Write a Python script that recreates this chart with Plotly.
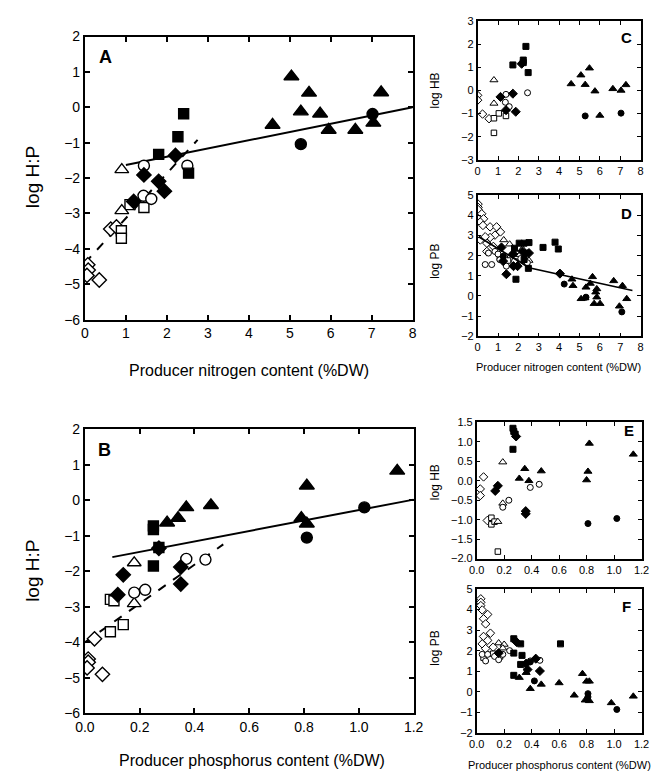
import plotly.graph_objects as go

# ---------------- DATA ----------------
# Panel A: producer N content vs log H:P
A_ftri = ([4.58, 5.04, 5.27, 5.47, 5.74, 5.95, 6.6, 7.04, 7.23], [-0.50, 0.87, -0.12, 0.41, -0.18, -0.64, -0.64, -0.44, 0.42])
A_fcir = ([5.27, 7.02], [-1.04, -0.19])
A_fsq = ([2.41, 2.27, 1.8, 2.53], [-0.18, -0.83, -1.33, -1.86])
A_fdia = ([2.21, 1.44, 1.8, 1.94, 1.19], [-1.36, -1.91, -2.09, -2.37, -2.66])
A_ocir = ([1.44, 2.5, 1.43, 1.62], [-1.65, -1.65, -2.5, -2.59])
A_otri = ([0.9, 0.9], [-1.76, -2.92])
A_osq = ([1.1, 1.44, 0.89, 0.89], [-2.75, -2.83, -3.49, -3.7])
A_odia = ([0.63, 0.77, 0.07, 0.08, 0.05, 0.35], [-3.44, -3.38, -4.45, -4.6, -4.75, -4.88])
A_solid = ([1.0, 8.0], [-1.63, 0.0])
A_dash = ([0.0, 2.75], [-4.4, -0.92])

# Panel B: producer P content vs log H:P
B_ftri = ([0.30, 0.34, 0.37, 0.46, 0.79, 0.81, 0.81, 1.14], [-0.63, -0.5, -0.2, -0.14, -0.5, -0.66, 0.41, 0.83])
B_fcir = ([1.02, 0.81], [-0.2, -1.05])
B_fsq = ([0.25, 0.25, 0.27, 0.25], [-0.72, -0.82, -1.33, -1.85])
B_fdia = ([0.27, 0.35, 0.35, 0.14, 0.12], [-1.35, -1.88, -2.36, -2.1, -2.66])
B_ocir = ([0.37, 0.44, 0.18, 0.22], [-1.65, -1.67, -2.6, -2.52])
B_otri = ([0.18, 0.18], [-1.76, -2.91])
B_osq = ([0.093, 0.106, 0.093, 0.14], [-2.79, -2.83, -3.7, -3.5])
B_odia = ([0.035, 0.012, 0.012, 0.008, 0.064], [-3.9, -4.47, -4.56, -4.72, -4.9])
B_solid = ([0.1, 1.2], [-1.6, 0.02])
B_dash = ([0.0, 0.505], [-4.0, -1.24])

# Panel C: producer N content vs log HB
C_ftri = ([4.59, 5.07, 5.49, 5.28, 5.76, 6.0, 6.64, 7.04, 7.28], [0.28, 0.66, 0.96, 0.25, -0.03, -1.08, 0.07, 0.0, 0.24])
C_fcir = ([5.28, 7.04], [-1.1, -0.98])
C_fsq = ([2.37, 2.24, 2.24, 1.73, 2.48], [1.9, 1.31, 1.2, 1.1, 0.77])
C_fdia = ([2.16, 1.12, 1.73, 1.39, 1.87], [1.15, -0.28, -0.14, -0.85, -0.92])
C_ocir = ([1.39, 1.36, 1.55, 2.45], [-0.17, -0.51, -0.7, -0.1])
C_otri = ([0.8, 0.8], [0.45, -0.56])
C_osq = ([1.04, 0.8, 1.39, 0.8], [-0.99, -1.2, -1.1, -1.83])
C_odia = ([0.0, 0.0, 0.24, 0.56], [-0.21, -0.42, -1.02, -1.22])

# Panel D: producer N content vs log PB
D_odia = ([0.02, 0.02, 0.02, 0.2, 0.29, 0.13, 0.26, 0.61, 0.93, 1.12, 0.85, 0.61, 0.13, 0.37, 0.45, 0.77, 0.45],
          [4.56, 4.4, 4.29, 4.08, 3.83, 3.67, 3.5, 3.43, 3.43, 3.18, 3.02, 2.9, 2.78, 2.94, 2.62, 2.46, 2.21])
D_otri = ([1.28, 1.57, 2.08, 2.2, 2.52], [2.78, 2.57, 2.05, 2.34, 1.76])
D_ocir = ([0.37, 0.69, 0.53, 0.85, 1.09, 1.41, 1.81, 2.12, 2.44, 1.0], [1.56, 1.56, 2.13, 2.21, 1.8, 1.48, 1.73, 1.86, 1.65, 2.08])
D_osq = ([1.09, 1.33, 1.49, 1.88, 2.36], [1.89, 1.86, 1.76, 1.97, 1.73])
D_fsq = ([1.81, 2.04, 2.28, 2.52, 2.36, 2.28, 3.21, 3.8, 3.96, 1.88, 2.49], [2.37, 2.62, 2.62, 2.65, 2.13, 1.81, 2.41, 2.67, 2.33, 0.83, 1.37])
D_fdia = ([1.17, 1.73, 1.76, 1.41, 2.52, 2.2, 4.04, 1.96, 1.25], [2.41, 2.08, 1.48, 1.08, 2.13, 2.21, 1.11, 1.48, 1.73])
D_fcir = ([4.25, 5.32, 7.08, 1.76, 1.25], [0.59, -0.06, -0.79, 2.08, 1.97])
D_ftri = ([4.63, 4.68, 5.32, 5.64, 5.53, 5.85, 5.8, 5.08, 5.85, 5.72, 6.01, 6.68, 7.11, 7.32, 6.96, 5.27],
          [0.83, 0.51, 0.43, 0.95, 0.62, 0.35, 0.19, -0.14, -0.06, -0.38, -0.38, 0.75, 0.51, -0.14, -0.51, -0.1])
D_fit = ([0.05, 2.52, 7.6], [2.94, 1.4, 0.27])

# Panel E: producer P content vs log HB
E_fsq = ([0.264, 0.27, 0.28, 0.264], [1.35, 1.27, 1.2, 0.81])
E_ftri = ([0.82, 1.14, 0.35, 0.31, 0.38, 0.47, 0.81, 0.8], [0.96, 0.68, 0.31, 0.06, 0.0, 0.25, 0.24, 0.02])
E_fdia = ([0.287, 0.154, 0.135, 0.357, 0.357], [1.14, -0.13, -0.26, -0.78, -0.85])
E_fcir = ([0.81, 1.02], [-1.1, -0.97])
E_ocir = ([0.39, 0.455, 0.234, 0.19], [-0.17, -0.09, -0.5, -0.68])
E_otri = ([0.19, 0.19, 0.154], [0.48, -0.58, -1.05])
E_osq = ([0.107, 0.107, 0.13, 0.154], [-0.95, -1.12, -1.05, -1.82])
E_odia = ([0.05, 0.026, 0.026, 0.077], [0.1, -0.21, -0.38, -1.02])

# Panel F: producer P content vs log PB
F_odia = ([0.03, 0.03, 0.03, 0.04, 0.08, 0.05, 0.065, 0.1, 0.05, 0.08, 0.04, 0.12, 0.065],
          [4.52, 4.35, 4.19, 3.98, 3.76, 3.55, 3.3, 2.85, 2.69, 2.5, 2.33, 2.17, 2.1])
F_ocir = ([0.065, 0.04, 0.08, 0.13, 0.16, 0.19, 0.24, 0.39, 0.46], [1.5, 1.82, 1.82, 1.72, 1.56, 1.82, 2.0, 1.5, 1.53])
F_osq = ([0.12, 0.17, 0.05], [1.85, 1.72, 1.66])
F_otri = ([0.16, 0.2, 0.19], [2.37, 2.3, 2.12])
F_fsq = ([0.27, 0.32, 0.61, 0.27, 0.33, 0.32, 0.27], [2.58, 2.33, 2.33, 1.88, 1.77, 1.33, 0.8])
F_fdia = ([0.16, 0.37, 0.46, 0.43, 0.36, 0.29], [1.88, 1.08, 1.01, 1.61, 1.37, 2.42])
F_fcir = ([0.42, 0.81, 0.81, 1.02, 0.39], [0.53, -0.09, -0.25, -0.86, 1.45])
F_ftri = ([0.31, 0.39, 0.47, 0.6, 0.71, 0.77, 0.8, 0.82, 0.79, 0.82, 0.98, 1.14, 0.36],
          [0.69, 0.15, 0.36, 0.43, -0.17, 0.88, 0.51, 0.51, -0.41, -0.44, -0.54, -0.22, 0.93])

N_TICKS = [0, 1, 2, 3, 4, 5, 6, 7, 8]
P_TICKS = [0.0, 0.2, 0.4, 0.6, 0.8, 1.0, 1.2]
HP_TICKS = [-6, -5, -4, -3, -2, -1, 0, 1, 2]
HB_N_TICKS = [-3, -2, -1, 0, 1, 2, 3]
PB_TICKS = [-2, -1, 0, 1, 2, 3, 4, 5]
HB_P_TICKS = [-2.0, -1.5, -1.0, -0.5, 0.0, 0.5, 1.0, 1.5]

# ---------------- STYLE ----------------
FONT = "Arial, Liberation Sans, sans-serif"
W, H = 661, 777

STY = {
    "ftri": ("triangle-up", "black"),
    "fcir": ("circle", "black"),
    "fsq": ("square", "black"),
    "fdia": ("diamond", "black"),
    "otri": ("triangle-up", "white"),
    "ocir": ("circle", "white"),
    "osq": ("square", "white"),
    "odia": ("diamond", "white"),
}
BIG_SIZE = {"ftri": 13, "fcir": 11, "fsq": 10, "fdia": 11, "otri": 12, "ocir": 11, "osq": 10, "odia": 11}
SMALL_SIZE = {"ftri": 7, "fcir": 6, "fsq": 6, "fdia": 7, "otri": 7, "ocir": 6, "osq": 5.5, "odia": 6.5}

fig = go.Figure()


def add_points(series, kind, ax, big):
    sym, col = STY[kind]
    size = (BIG_SIZE if big else SMALL_SIZE)[kind]
    fig.add_trace(go.Scatter(
        x=series[0], y=series[1], mode="markers",
        xaxis="x" + ax, yaxis="y" + ax, showlegend=False, hoverinfo="skip",
        marker=dict(symbol=sym, color=col, size=size,
                    line=dict(color="black", width=1.4 if big else 1.0)),
    ))


def add_line(series, ax, dash, width):
    fig.add_trace(go.Scatter(
        x=series[0], y=series[1], mode="lines", xaxis="x" + ax, yaxis="y" + ax,
        showlegend=False, hoverinfo="skip",
        line=dict(color="black", width=width, dash=dash),
    ))


ORDER = ["odia", "osq", "otri", "ocir", "fdia", "fsq", "fcir", "ftri"]

add_line(A_dash, "", "dash", 2)
add_line(A_solid, "", "solid", 2)
for k, s in zip(ORDER, [A_odia, A_osq, A_otri, A_ocir, A_fdia, A_fsq, A_fcir, A_ftri]):
    add_points(s, k, "", True)

add_line(B_dash, "2", "dash", 2)
add_line(B_solid, "2", "solid", 2)
for k, s in zip(ORDER, [B_odia, B_osq, B_otri, B_ocir, B_fdia, B_fsq, B_fcir, B_ftri]):
    add_points(s, k, "2", True)

for k, s in zip(ORDER, [C_odia, C_osq, C_otri, C_ocir, C_fdia, C_fsq, C_fcir, C_ftri]):
    add_points(s, k, "3", False)

for k, s in zip(ORDER, [D_odia, D_osq, D_otri, D_ocir, D_fdia, D_fsq, D_fcir, D_ftri]):
    add_points(s, k, "4", False)
add_line(D_fit, "4", "solid", 1.6)

for k, s in zip(ORDER, [E_odia, E_osq, E_otri, E_ocir, E_fdia, E_fsq, E_fcir, E_ftri]):
    add_points(s, k, "5", False)

for k, s in zip(ORDER, [F_odia, F_osq, F_otri, F_ocir, F_fdia, F_fsq, F_fcir, F_ftri]):
    add_points(s, k, "6", False)


def px_dom_x(a, b):
    return [a / W, b / W]


def px_dom_y(top, bottom):
    return [1 - bottom / H, 1 - top / H]


def axis(dom, rng, ticks, big, fmt=None, anchor=None):
    d = dict(
        domain=dom, range=rng, tickvals=ticks, showgrid=False, zeroline=False,
        showline=True, linecolor="black", linewidth=2 if big else 1.5, mirror="ticks",
        ticks="inside", ticklen=5 if big else 4, tickwidth=1.5 if big else 1, tickcolor="black",
        tickfont=dict(family=FONT, size=14 if big else 11, color="black"),
        fixedrange=True, anchor=anchor,
    )
    if fmt:
        d["tickformat"] = fmt
    return d


layout = dict(
    width=W, height=H, autosize=False,
    margin=dict(l=0, r=0, t=0, b=0),
    paper_bgcolor="white", plot_bgcolor="white",
    font=dict(family=FONT, color="black"),
)
layout["xaxis"] = axis(px_dom_x(69, 407), [0, 8], N_TICKS, True, anchor="y")
layout["yaxis"] = axis(px_dom_y(21, 310), [-6, 2], HP_TICKS, True, anchor="x")
layout["xaxis2"] = axis(px_dom_x(69, 408), [0, 1.2], P_TICKS, True, ".1f", anchor="y2")
layout["yaxis2"] = axis(px_dom_y(422, 712), [-6, 2], HP_TICKS, True, anchor="x2")
layout["xaxis3"] = axis(px_dom_x(474, 642), [0, 8], N_TICKS, False, anchor="y3")
layout["yaxis3"] = axis(px_dom_y(5, 147), [-3, 3], HB_N_TICKS, False, anchor="x3")
layout["xaxis4"] = axis(px_dom_x(474, 642), [0, 8], N_TICKS, False, anchor="y4")
layout["yaxis4"] = axis(px_dom_y(183, 327), [-2, 5], PB_TICKS, False, anchor="x4")
layout["xaxis5"] = axis(px_dom_x(473, 643), [0, 1.2], P_TICKS, False, ".1f", anchor="y5")
layout["yaxis5"] = axis(px_dom_y(415, 554), [-2, 1.5], HB_P_TICKS, False, ".1f", anchor="x5")
layout["xaxis6"] = axis(px_dom_x(473, 643), [0, 1.2], P_TICKS, False, ".1f", anchor="y6")
layout["yaxis6"] = axis(px_dom_y(585, 732), [-2, 5], PB_TICKS, False, anchor="x6")


def ann(text, x, y, size, bold=False, angle=0):
    return dict(text=("<b>%s</b>" % text) if bold else text, x=x / W, y=1 - y / H,
                xref="paper", yref="paper", showarrow=False, textangle=angle,
                xanchor="center", yanchor="middle",
                font=dict(family=FONT, size=size, color="black"))


layout["annotations"] = [
    ann("A", 90, 42, 18, True),
    ann("B", 89, 443, 18, True),
    ann("C", 628, 22, 15, True),
    ann("D", 628, 202, 15, True),
    ann("E", 630, 423, 15, True),
    ann("F", 628, 603, 15, True),
    ann("log H:P", 15, 165, 19, angle=-90),
    ann("log H:P", 15, 567, 19, angle=-90),
    ann("Producer nitrogen content (%DW)", 238, 362, 16),
    ann("Producer phosphorus content (%DW)", 241, 760, 16),
    ann("log HB", 430, 76, 12, angle=-90),
    ann("log PB", 430, 250, 12, angle=-90),
    ann("log HB", 430, 476, 12, angle=-90),
    ann("log PB", 430, 645, 12, angle=-90),
    ann("Producer nitrogen content (%DW)", 557, 358, 11),
    ann("Producer phosphorus content (%DW)", 558, 765, 11),
]

fig.update_layout(**layout)
fig.write_html("out.html")
